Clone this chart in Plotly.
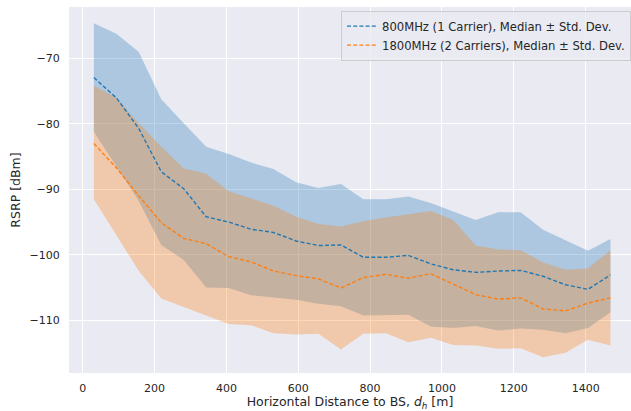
import plotly.graph_objects as go

distance = [31.25 + 62.5 * i for i in range(24)]

m800_upper = [-64.6, -66.2, -69.0, -76.2, -79.9, -83.5, -84.6, -85.9, -86.9, -88.9, -89.8, -89.2,
              -91.5, -91.5, -91.1, -92.1, -93.4, -94.7, -93.5, -93.5, -96.2, -97.8, -99.4, -97.6]
m800_median = [-72.9, -76.0, -80.7, -87.3, -89.9, -94.2, -95.0, -96.1, -96.6, -97.9, -98.6, -98.5,
               -100.4, -100.4, -100.1, -101.4, -102.3, -102.7, -102.5, -102.4, -103.3, -104.6, -105.3, -103.1]
m800_lower = [-81.2, -86.4, -91.8, -98.5, -100.8, -105.0, -105.1, -106.2, -106.5, -106.9, -107.5, -107.9,
              -109.3, -109.3, -109.2, -111.0, -111.2, -110.9, -111.6, -111.3, -111.5, -112.0, -111.2, -108.8]

m1800_upper = [-74.2, -75.9, -79.9, -83.5, -86.8, -87.6, -90.3, -91.4, -92.5, -94.2, -95.3, -95.7,
               -94.9, -94.3, -93.8, -93.3, -94.7, -98.6, -99.2, -99.3, -101.2, -102.3, -102.1, -99.3]
m1800_median = [-83.0, -86.7, -91.0, -95.1, -97.5, -98.3, -100.3, -101.1, -102.5, -103.2, -103.7, -105.1,
                -103.5, -103.0, -103.6, -102.9, -104.5, -106.1, -106.8, -106.6, -108.3, -108.6, -107.4, -106.6]
m1800_lower = [-91.5, -96.9, -102.5, -106.7, -108.0, -109.2, -110.6, -110.8, -112.0, -112.2, -112.1, -114.5,
               -112.1, -112.0, -113.4, -112.7, -113.8, -113.9, -114.4, -114.3, -115.7, -115.0, -113.0, -113.9]

x_ticks = [0, 200, 400, 600, 800, 1000, 1200, 1400]
y_ticks = [-110, -100, -90, -80, -70]

label_800 = "800MHz (1 Carrier), Median \u00b1 Std. Dev."
label_1800 = "1800MHz (2 Carriers), Median \u00b1 Std. Dev."

BLUE = "#1f77b4"
ORANGE = "#ff7f0e"
FONT = "DejaVu Sans"
TXT = "#262626"

fig = go.Figure()

# Blue band
fig.add_trace(go.Scatter(x=distance, y=m800_upper, mode="lines", line=dict(width=0, color=BLUE),
                         showlegend=False, hoverinfo="skip"))
fig.add_trace(go.Scatter(x=distance, y=m800_lower, mode="lines", line=dict(width=0, color=BLUE),
                         fill="tonexty", fillcolor="rgba(31,119,180,0.3)", showlegend=False, hoverinfo="skip"))
# Orange band
fig.add_trace(go.Scatter(x=distance, y=m1800_upper, mode="lines", line=dict(width=0, color=ORANGE),
                         showlegend=False, hoverinfo="skip"))
fig.add_trace(go.Scatter(x=distance, y=m1800_lower, mode="lines", line=dict(width=0, color=ORANGE),
                         fill="tonexty", fillcolor="rgba(255,127,14,0.3)", showlegend=False, hoverinfo="skip"))

# Medians
fig.add_trace(go.Scatter(x=distance, y=m800_median, mode="lines", name=label_800,
                         line=dict(color=BLUE, width=1.4, dash="4px,2.2px")))
fig.add_trace(go.Scatter(x=distance, y=m1800_median, mode="lines", name=label_1800,
                         line=dict(color=ORANGE, width=1.4, dash="4px,2.2px")))

fig.update_layout(
    width=631, height=411,
    margin=dict(l=69, r=0, t=7, b=38),
    paper_bgcolor="white",
    plot_bgcolor="#EAEAF2",
    font=dict(family=FONT, size=11, color=TXT),
    legend=dict(
        x=1, y=0.99, xanchor="right", yanchor="top",
        traceorder="normal",
        bgcolor="rgba(234,234,242,0.8)", bordercolor="#cccccc", borderwidth=1,
        font=dict(family=FONT, size=11.6, color=TXT),
        tracegroupgap=0, itemwidth=30,
    ),
    xaxis=dict(
        range=[-38, 1526], tickvals=x_ticks, ticktext=[str(v) for v in x_ticks],
        showgrid=True, gridcolor="white", gridwidth=1, zeroline=False, showline=False,
        ticks="outside", ticklen=5, tickcolor="rgba(0,0,0,0)",
        tickfont=dict(size=11, color=TXT),
        title=dict(text="Horizontal Distance to BS, <i>d</i><sub><i>h</i></sub> [m]",
                   font=dict(size=12.5, color=TXT), standoff=3),
    ),
    yaxis=dict(
        range=[-118.1, -62.1], tickvals=y_ticks,
        showgrid=True, gridcolor="white", gridwidth=1, zeroline=False, showline=False,
        ticks="outside", ticklen=6, tickcolor="rgba(0,0,0,0)",
        tickfont=dict(size=11, color=TXT),
        title=dict(text="RSRP [dBm]", font=dict(size=12.5, color=TXT), standoff=6),
    ),
)

fig.write_html("out.html")
